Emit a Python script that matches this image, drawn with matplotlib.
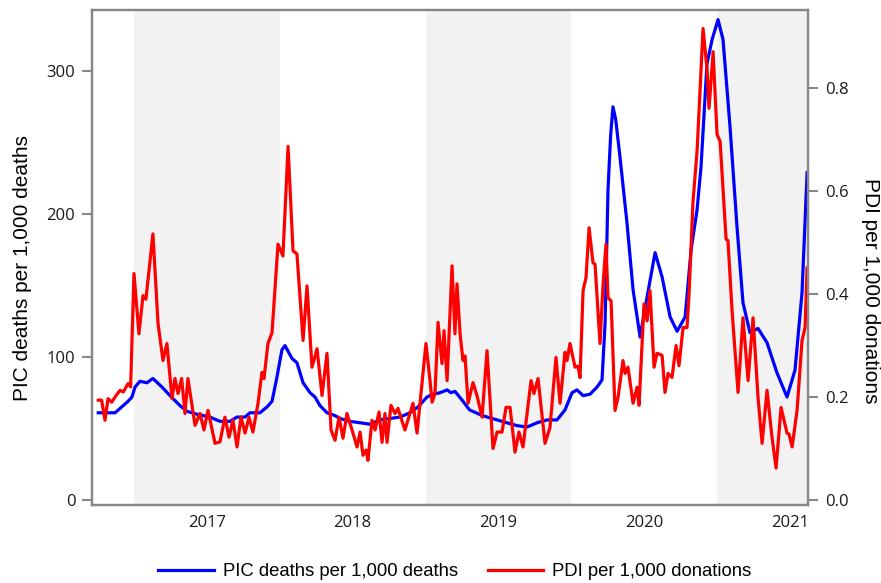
import matplotlib
matplotlib.use("Agg")
import matplotlib.pyplot as plt

# decimal year / value pairs
pic_t = [2016.755, 2016.835, 2016.870, 2016.904, 2016.959, 2016.986, 2017.007, 2017.041,
         2017.089, 2017.130, 2017.192, 2017.247, 2017.316, 2017.364, 2017.432, 2017.521,
         2017.590, 2017.659, 2017.707, 2017.762, 2017.796, 2017.864, 2017.912, 2017.947,
         2017.981, 2018.015, 2018.036, 2018.084, 2018.118, 2018.160, 2018.208, 2018.242,
         2018.276, 2018.324, 2018.379, 2018.413, 2018.482, 2018.551, 2018.619, 2018.688,
         2018.756, 2018.825, 2018.893, 2018.948, 2019.010, 2019.051, 2019.099, 2019.148,
         2019.175, 2019.202, 2019.250, 2019.302, 2019.391, 2019.491, 2019.559, 2019.628,
         2019.696, 2019.765, 2019.834, 2019.902, 2019.957, 2020.005, 2020.039, 2020.081,
         2020.129, 2020.177, 2020.211, 2020.232, 2020.252, 2020.270, 2020.286, 2020.305,
         2020.334, 2020.382, 2020.424, 2020.472, 2020.520, 2020.575, 2020.623, 2020.678,
         2020.726, 2020.781, 2020.822, 2020.863, 2020.890, 2020.931, 2020.966, 2021.007,
         2021.041, 2021.089, 2021.137, 2021.178, 2021.226, 2021.281, 2021.343, 2021.411,
         2021.480, 2021.535, 2021.583, 2021.618]
pic_v = [61, 61, 61, 64, 69, 72, 79, 83,
         82, 85, 79, 73, 66, 62, 60, 58,
         55, 55, 58, 58, 61, 61, 65, 69,
         86, 105, 108, 99, 96, 82, 75, 72,
         66, 61, 59, 57, 55, 54, 53, 56,
         57, 58, 61, 65, 72, 74, 75, 77,
         75, 76, 70, 63, 59, 56, 54, 52,
         51, 54, 56, 56, 63, 75, 77, 73,
         74, 79, 84, 124, 217, 255, 275, 266,
         240, 194, 147, 114, 142, 173, 156, 128,
         118, 128, 175, 203, 233, 305, 322, 336,
         322, 261, 191, 138, 117, 120, 110, 89,
         72, 91, 145, 229]

pdi_t = [2016.755, 2016.778, 2016.801, 2016.822, 2016.847, 2016.870, 2016.904, 2016.927,
         2016.959, 2016.977, 2017.000, 2017.034, 2017.062, 2017.082, 2017.130, 2017.165,
         2017.199, 2017.226, 2017.261, 2017.281, 2017.302, 2017.327, 2017.350, 2017.370,
         2017.419, 2017.453, 2017.480, 2017.508, 2017.556, 2017.590, 2017.624, 2017.652,
         2017.679, 2017.707, 2017.734, 2017.762, 2017.789, 2017.816, 2017.851, 2017.878,
         2017.892, 2017.919, 2017.947, 2017.988, 2018.022, 2018.057, 2018.091, 2018.118,
         2018.160, 2018.187, 2018.221, 2018.256, 2018.290, 2018.324, 2018.352, 2018.379,
         2018.407, 2018.434, 2018.461, 2018.496, 2018.530, 2018.551, 2018.571, 2018.592,
         2018.605, 2018.633, 2018.654, 2018.681, 2018.702, 2018.722, 2018.736, 2018.763,
         2018.791, 2018.811, 2018.859, 2018.914, 2018.942, 2018.976, 2019.003, 2019.031,
         2019.045, 2019.065, 2019.086, 2019.113, 2019.127, 2019.148, 2019.182, 2019.202,
         2019.216, 2019.237, 2019.257, 2019.271, 2019.292, 2019.326, 2019.353, 2019.388,
         2019.422, 2019.463, 2019.491, 2019.525, 2019.552, 2019.580, 2019.614, 2019.641,
         2019.669, 2019.724, 2019.744, 2019.772, 2019.820, 2019.854, 2019.895, 2019.923,
         2019.957, 2019.971, 2019.991, 2020.026, 2020.046, 2020.060, 2020.081, 2020.101,
         2020.122, 2020.149, 2020.163, 2020.197, 2020.218, 2020.238, 2020.252, 2020.273,
         2020.300, 2020.321, 2020.355, 2020.369, 2020.389, 2020.424, 2020.451, 2020.465,
         2020.499, 2020.520, 2020.540, 2020.568, 2020.588, 2020.623, 2020.643, 2020.664,
         2020.691, 2020.719, 2020.739, 2020.767, 2020.794, 2020.808, 2020.835, 2020.863,
         2020.904, 2020.931, 2020.945, 2020.973, 2021.000, 2021.021, 2021.062, 2021.075,
         2021.103, 2021.144, 2021.178, 2021.213, 2021.247, 2021.281, 2021.309, 2021.343,
         2021.377, 2021.405, 2021.439, 2021.480, 2021.494, 2021.515, 2021.549, 2021.583,
         2021.604, 2021.618]
pdi_v = [0.194, 0.194, 0.155, 0.197, 0.190, 0.200, 0.213, 0.210,
         0.226, 0.220, 0.440, 0.323, 0.397, 0.390, 0.517, 0.343,
         0.271, 0.304, 0.197, 0.236, 0.207, 0.236, 0.168, 0.236,
         0.145, 0.168, 0.136, 0.174, 0.110, 0.113, 0.161, 0.122,
         0.155, 0.103, 0.161, 0.130, 0.161, 0.132, 0.188, 0.248,
         0.236, 0.304, 0.325, 0.497, 0.474, 0.687, 0.484, 0.478,
         0.310, 0.416, 0.258, 0.294, 0.203, 0.285, 0.136, 0.116,
         0.161, 0.120, 0.168, 0.136, 0.103, 0.132, 0.087, 0.097,
         0.077, 0.155, 0.136, 0.171, 0.112, 0.168, 0.112, 0.184,
         0.168, 0.178, 0.136, 0.188, 0.130, 0.226, 0.304, 0.232,
         0.190, 0.207, 0.345, 0.265, 0.329, 0.232, 0.455, 0.323,
         0.420, 0.323, 0.271, 0.280, 0.188, 0.228, 0.203, 0.161,
         0.290, 0.100, 0.132, 0.132, 0.180, 0.180, 0.093, 0.132,
         0.103, 0.232, 0.207, 0.236, 0.110, 0.141, 0.277, 0.188,
         0.287, 0.271, 0.304, 0.258, 0.260, 0.238, 0.407, 0.432,
         0.529, 0.461, 0.458, 0.304, 0.420, 0.497, 0.393, 0.387,
         0.174, 0.200, 0.271, 0.246, 0.258, 0.188, 0.219, 0.184,
         0.381, 0.348, 0.407, 0.258, 0.285, 0.281, 0.209, 0.246,
         0.238, 0.300, 0.261, 0.335, 0.335, 0.400, 0.580, 0.678,
         0.916, 0.838, 0.761, 0.871, 0.710, 0.697, 0.507, 0.504,
         0.368, 0.209, 0.354, 0.232, 0.354, 0.200, 0.110, 0.213,
         0.122, 0.062, 0.180, 0.130, 0.128, 0.103, 0.174, 0.310,
         0.335, 0.451]

years = [2017, 2018, 2019, 2020, 2021]
shaded_years = [2017, 2019, 2021]

tick_font = "Open Sans"
label_font = "Liberation Sans"
grey = "#888888"

fig = plt.figure(figsize=(8.81, 5.83), dpi=100)
ax1 = fig.add_axes([92/881, 1 - 505/583, 716/881, 495/583])
ax2 = ax1.twinx()

x0, x1 = 2016.712, 2021.624
for y in shaded_years:
    ax1.axvspan(y, min(y + 1, x1), color="#f2f2f2", lw=0, zorder=0)

l1, = ax1.plot(pic_t, pic_v, color="#0000ff", lw=2.3, solid_joinstyle="round",
               label="PIC deaths per 1,000 deaths")
l2, = ax2.plot(pdi_t, pdi_v, color="#ff0000", lw=2.3, solid_joinstyle="round",
               label="PDI per 1,000 donations")

ax1.set_xlim(x0, x1)
ax1.set_ylim(-3.5, 342.7)
ax2.set_ylim(-0.0097, 0.952)

ax1.set_xticks([y + 0.5 for y in years])
ax1.set_xticklabels([str(y) for y in years])
ax1.set_yticks([0, 100, 200, 300])
ax2.set_yticks([0.0, 0.2, 0.4, 0.6, 0.8])
ax2.set_yticklabels(["%.1f" % v for v in [0.0, 0.2, 0.4, 0.6, 0.8]])

ax1.tick_params(axis="x", length=0, pad=7, labelsize=12, labelcolor="#1a1a1a")
ax1.tick_params(axis="y", length=7, width=1.5, color=grey, pad=5, labelsize=12,
                labelcolor="#1a1a1a")
ax2.tick_params(axis="y", length=7, width=1.5, color=grey, pad=5, labelsize=12,
                labelcolor="#1a1a1a")
for lab in ax1.get_xticklabels() + ax1.get_yticklabels() + ax2.get_yticklabels():
    lab.set_fontfamily(tick_font)

for ax in (ax1, ax2):
    for s in ax.spines.values():
        s.set_color(grey)
        s.set_linewidth(1.6)

ax1.set_ylabel("PIC deaths per 1,000 deaths", fontsize=15, family=label_font, va="center")
ax1.yaxis.set_label_coords(-(92 - 23) / 716, (505 - 268) / 495)
ax2.set_ylabel("PDI per 1,000 donations", fontsize=15, family=label_font, rotation=-90,
               va="center")
ax2.yaxis.set_label_coords((871 - 92) / 716, (505 - 291) / 495)

fig.legend(handles=[l1, l2], loc="center", bbox_to_anchor=(455/881, 1 - 572/583), ncol=2,
           frameon=False, prop={"family": label_font, "size": 13.3}, handlelength=3.0,
           handletextpad=0.5, columnspacing=1.6)

fig.savefig("out.png", dpi=100)
